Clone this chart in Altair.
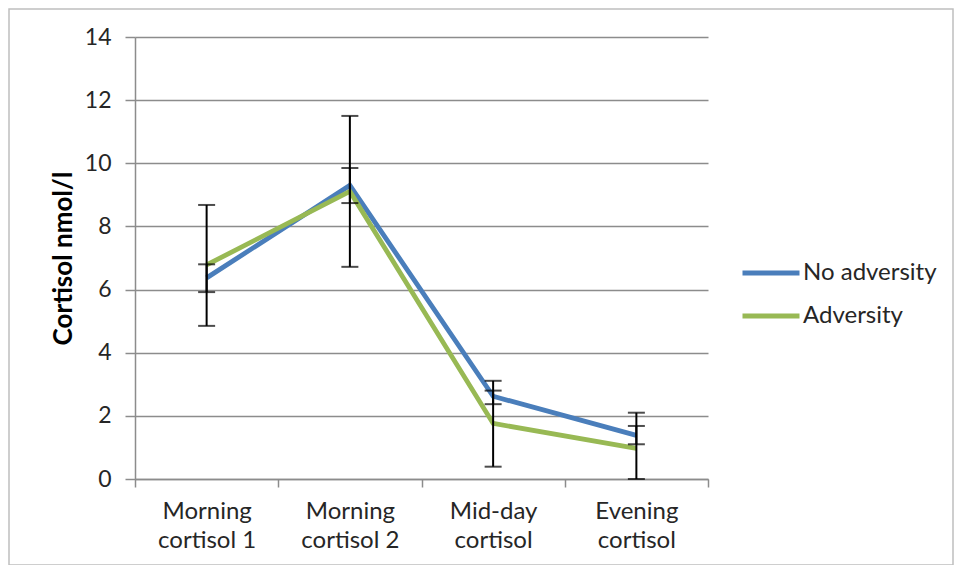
import altair as alt
import pandas as pd

categories = ["Morning cortisol 1", "Morning cortisol 2", "Mid-day cortisol", "Evening cortisol"]
series_names = ["No adversity", "Adversity"]

no_adv = [6.37, 9.30, 2.62, 1.38]
no_adv_lo = [5.92, 8.74, 2.37, 1.10]
no_adv_hi = [6.80, 9.85, 2.80, 1.68]

adv = [6.78, 9.11, 1.76, 0.97]
adv_lo = [4.85, 6.72, 0.39, -0.16]
adv_hi = [8.68, 11.50, 3.11, 2.10]

colors = ["#4a7ebb", "#98b954"]

rows = []
for name, vals, lo, hi in [
    (series_names[0], no_adv, no_adv_lo, no_adv_hi),
    (series_names[1], adv, adv_lo, adv_hi),
]:
    for c, v, l, h in zip(categories, vals, lo, hi):
        rows.append({"cat": c, "series": name, "value": v, "lo": l, "hi": h})
df = pd.DataFrame(rows)

FONT = "Lato"

x_enc = alt.X(
    "cat:N",
    sort=categories,
    scale=alt.Scale(paddingInner=0, paddingOuter=0),
    axis=alt.Axis(
        title=None,
        labelAngle=0,
        labelFontSize=24,
        labelFont=FONT,
        labelColor="#262626",
        labelLineHeight=29,
        labelPadding=12,
        labelExpr="[substring(datum.label, 0, indexof(datum.label, ' ')), substring(datum.label, indexof(datum.label, ' ') + 1)]",
        tickBand="extent",
        tickSize=8,
        tickColor="#8c8c8c",
        tickWidth=1.5,
        domainColor="#8c8c8c",
        domainWidth=1.5,
        grid=False,
    ),
)

y_scale = alt.Scale(domain=[0, 14], clamp=True, nice=False, zero=True)
y_axis = alt.Axis(
    title="Cortisol nmol/l",
    titleFont=FONT,
    titleFontSize=26,
    titleFontWeight="bold",
    titleColor="#000000",
    titlePadding=8,
    values=[0, 2, 4, 6, 8, 10, 12, 14],
    labelFont=FONT,
    labelFontSize=23,
    labelColor="#262626",
    labelPadding=14,
    tickSize=10,
    tickColor="#8c8c8c",
    tickWidth=1.5,
    domainColor="#8c8c8c",
    domainWidth=1.5,
    grid=True,
    gridColor="#8c8c8c",
    gridWidth=1.5,
)

base = alt.Chart(df)

lines = base.mark_line(strokeWidth=4.8).encode(
    x=x_enc,
    y=alt.Y("value:Q", scale=y_scale, axis=y_axis),
    color=alt.Color(
        "series:N",
        sort=series_names,
        scale=alt.Scale(domain=series_names, range=colors),
        legend=alt.Legend(
            title=None,
            orient="none",
            legendX=605,
            legendY=205,
            symbolType="stroke",
            symbolSize=3249,
            symbolStrokeWidth=4.8,
            labelFont=FONT,
            labelFontSize=24,
            labelColor="#262626",
            labelOffset=1,
            rowPadding=-9,
            padding=0,
        ),
    ),
    detail="series:N",
)

rules = base.mark_rule(color="#000000", strokeWidth=2).encode(
    x=alt.X("cat:N", sort=categories),
    y=alt.Y("lo:Q", scale=y_scale),
    y2="hi:Q",
)

caps_lo = base.mark_tick(color="#000000", size=17, thickness=2).encode(
    x=alt.X("cat:N", sort=categories),
    y=alt.Y("lo:Q", scale=y_scale),
)
caps_hi = base.mark_tick(color="#000000", size=17, thickness=2).encode(
    x=alt.X("cat:N", sort=categories),
    y=alt.Y("hi:Q", scale=y_scale),
)

frame = alt.Chart(alt.Data(values=[{"a": 1}])).mark_rect(
    fillOpacity=0, stroke="#bfbfbf", strokeWidth=1.5
).encode(
    x=alt.value(-126), x2=alt.value(818), y=alt.value(-28), y2=alt.value(528)
)

chart = (
    alt.layer(lines, rules, caps_lo, caps_hi, frame)
    .properties(
        width=573,
        height=442,
        padding={"left": 127, "top": 29, "right": 246, "bottom": 86},
        autosize=alt.AutoSizeParams(type="none"),
        background="#ffffff",
    )
    .configure_view(stroke=None)
)

chart.save("out.html", embed_options={"renderer": "svg", "actions": False})
